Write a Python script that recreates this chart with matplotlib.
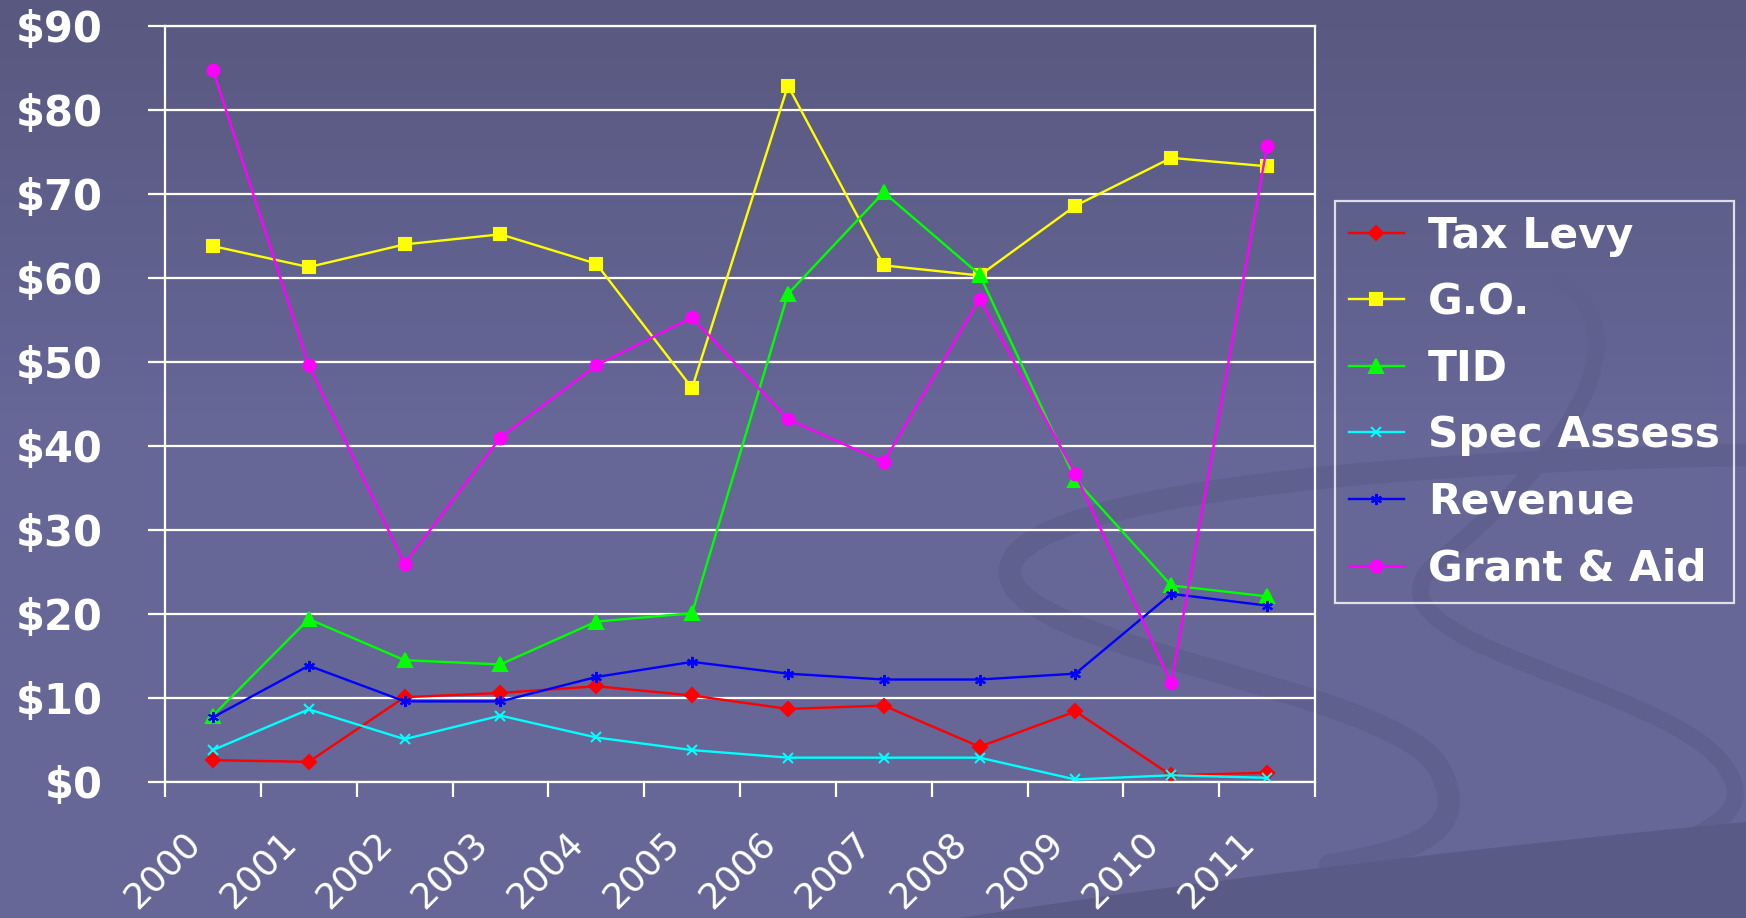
import matplotlib.pyplot as plt
import numpy as np
from matplotlib.path import Path
from matplotlib.patches import PathPatch
from matplotlib.transforms import ScaledTranslation

# data (millions of $)
years = ['2000', '2001', '2002', '2003', '2004', '2005',
         '2006', '2007', '2008', '2009', '2010', '2011']
tax_levy = [2.6, 2.4, 10.1, 10.6, 11.4, 10.3, 8.7, 9.1, 4.2, 8.4, 0.8, 1.1]
go = [63.8, 61.3, 64.0, 65.2, 61.7, 46.9, 82.9, 61.5, 60.3, 68.6, 74.3, 73.3]
tid = [7.9, 19.4, 14.5, 14.0, 19.1, 20.1, 58.1, 70.2, 60.4, 36.0, 23.4, 22.1]
spec_assess = [3.8, 8.65, 5.1, 7.9, 5.3, 3.8, 2.9, 2.9, 2.9, 0.3, 0.8, 0.5]
revenue = [7.7, 13.85, 9.6, 9.6, 12.5, 14.3, 12.9, 12.2, 12.2, 12.9, 22.4, 21.0]
grant_aid = [84.8, 49.6, 26.0, 41.0, 49.6, 55.3, 43.2, 38.1, 57.5, 36.7, 11.75, 75.7]

W, H = 1746, 918
fig = plt.figure(figsize=(W / 100, H / 100), dpi=100)

# background: vertical gradient plus a few darker swooshes
bg = fig.add_axes([0, 0, 1, 1], zorder=-1)
top = np.array([88, 88, 128]) / 255
bot = np.array([102, 102, 151]) / 255
t = np.clip(np.linspace(0, 1, H) / 0.45, 0, 1)[:, None]
grad = top * (1 - t) + bot * t
bg.imshow(np.repeat(grad[:, None, :], 2, axis=1), extent=[0, W, H, 0], aspect='auto')
bg.set_xlim(0, W)
bg.set_ylim(H, 0)
bg.axis('off')

swoosh = '#60608f'
C4 = Path.CURVE4
arc = Path([(1746, 455), (1350, 462), (1000, 500), (1010, 575),
            (1020, 650), (1400, 690), (1440, 770),
            (1470, 830), (1420, 850), (1330, 865)],
           [Path.MOVETO, C4, C4, C4, C4, C4, C4, C4, C4, C4])
bg.add_patch(PathPatch(arc, fill=False, edgecolor=swoosh, lw=16, capstyle='round'))
s_curve = Path([(1560, 280), (1650, 340), (1560, 460), (1440, 560),
                (1340, 640), (1650, 680), (1720, 760),
                (1780, 830), (1650, 850), (1560, 875)],
               [Path.MOVETO, C4, C4, C4, C4, C4, C4, C4, C4, C4])
bg.add_patch(PathPatch(s_curve, fill=False, edgecolor=swoosh, lw=12, capstyle='round'))
band = Path([(960, 918), (1200, 880), (1500, 845), (1746, 822),
             (1746, 918), (960, 918)],
            [Path.MOVETO, C4, C4, C4, Path.LINETO, Path.CLOSEPOLY])
bg.add_patch(PathPatch(band, facecolor='#5a5a86', edgecolor='none'))

# main chart
ax = fig.add_axes([165 / W, 1 - 782 / H, 1150 / W, 756 / H])
ax.set_facecolor('none')

x = np.arange(len(years))
series = [
    ('Tax Levy', tax_levy, '#ff0000', 'D', 7.3),
    ('G.O.', go, '#ffff00', 's', 8.5),
    ('TID', tid, '#00ff00', '^', 10),
    ('Spec Assess', spec_assess, '#00ffff', 'x', 7),
    ('Revenue', revenue, '#0000ff', (6, 2, 0), 8),
    ('Grant & Aid', grant_aid, '#ff00ff', 'o', 8.5),
]
for name, vals, col, mk, ms in series:
    ax.plot(x, vals, color=col, lw=1.7, marker=mk, markersize=ms,
            markeredgecolor=col, markerfacecolor=col, markeredgewidth=1.5,
            label=name)

ax.set_xlim(-0.5, len(years) - 0.5)
ax.set_ylim(0, 90)
for s in ax.spines.values():
    s.set_color('white')
    s.set_linewidth(1.6)

ax.set_yticks(np.arange(0, 91, 10))
ax.set_yticklabels(['$%d' % v for v in range(0, 91, 10)])
ax.yaxis.grid(True, color='white', lw=1.6)
ax.tick_params(axis='y', direction='out', length=12, width=1.6, color='white',
               pad=33, labelsize=30, labelcolor='white')
for lab in ax.get_yticklabels():
    lab.set_fontweight('bold')

# ticks between categories, labels at the centres
ax.set_xticks(np.arange(-0.5, len(years), 1))
ax.set_xticklabels([])
ax.tick_params(axis='x', which='major', direction='out', length=11, width=1.6, color='white')
ax.set_xticks(x, minor=True)
ax.set_xticklabels(years, minor=True, rotation=45, ha='right', va='center',
                   rotation_mode='anchor')
ax.tick_params(axis='x', which='minor', length=0, pad=40, labelsize=26, labelcolor='white')
shift = ScaledTranslation(-0.18, 0, fig.dpi_scale_trans)
for lab in ax.get_xticklabels(minor=True):
    lab.set_transform(lab.get_transform() + shift)

leg = fig.legend(loc='upper left', bbox_to_anchor=(1335 / W, 1 - 201 / H),
                 borderaxespad=0, fontsize=30.5, frameon=True, fancybox=False,
                 handlelength=1.3, handletextpad=0.58, labelspacing=0.58,
                 borderpad=0.32)
leg.get_frame().set_facecolor('none')
leg.get_frame().set_edgecolor('white')
leg.get_frame().set_linewidth(1.6)
for txt in leg.get_texts():
    txt.set_color('white')
    txt.set_fontweight('bold')

fig.savefig('out.png', dpi=100)
